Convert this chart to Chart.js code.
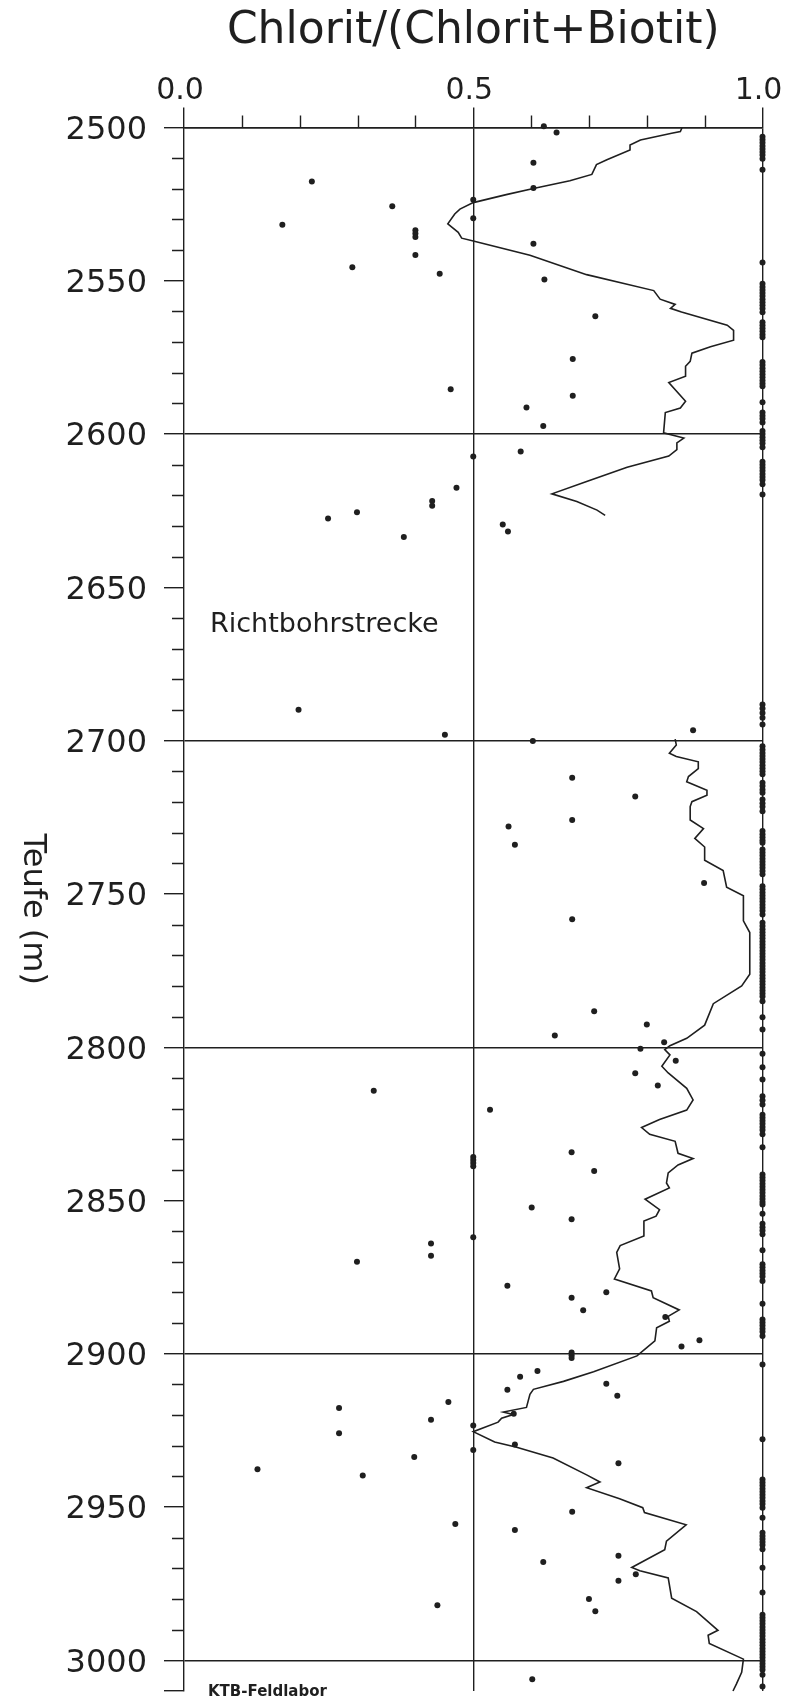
<!DOCTYPE html>
<html lang="de">
<head>
<meta charset="utf-8">
<title>Chlorit/(Chlorit+Biotit) – Teufe</title>
<script src="https://cdn.jsdelivr.net/npm/chart.js@4.4.1/dist/chart.umd.min.js"></script>
<style>
  html, body { margin: 0; padding: 0; background: #fff; }
  #wrap { width: 786px; height: 1700px; }
</style>
</head>
<body>
<div id="wrap"><canvas id="chlorit-log" width="786" height="1700"></canvas></div>
<script>
'use strict';

/* ── Data: single samples (ratio, depth in m) ── */
const sampleRatio = [
  0.622, 0.644, 0.604, 0.221, 0.604, 0.500, 0.360, 0.500, 0.170, 0.400,
  0.400, 0.400, 0.604, 0.400, 0.291, 0.442, 0.623, 0.711, 0.672, 0.461,
  0.672, 0.592, 0.621, 0.582, 0.500, 0.471, 0.429, 0.429, 0.299, 0.249,
  0.551, 0.560, 0.380, 0.198, 0.451, 0.880, 0.603,
  0.671, 0.780, 0.671, 0.561, 0.572, 0.899, 0.671, 0.709, 0.800, 0.641, 0.830, 0.789,
  0.850, 0.780, 0.819, 0.328, 0.529, 0.670, 0.500, 0.500, 0.500, 0.500,
  0.709, 0.601, 0.670, 0.500, 0.427, 0.427, 0.299, 0.559, 0.730, 0.670,
  0.690, 0.832, 0.891, 0.860, 0.670, 0.670, 0.670,
  0.611, 0.581, 0.730, 0.559, 0.749, 0.457, 0.268, 0.570, 0.427, 0.500,
  0.268, 0.572, 0.500, 0.398, 0.751, 0.127, 0.309, 0.671, 0.469, 0.572,
  0.751, 0.621, 0.781, 0.751, 0.700, 0.438, 0.711, 0.602
];
const sampleDepth = [
  2499.6, 2501.6, 2511.5, 2517.6, 2519.7, 2523.6, 2525.7, 2529.6, 2531.7, 2533.5,
  2534.6, 2535.7, 2537.9, 2541.6, 2545.6, 2547.7, 2549.6, 2561.6, 2575.5, 2585.4,
  2587.5, 2591.3, 2597.4, 2605.7, 2607.3, 2617.5, 2621.8, 2623.4, 2625.5, 2627.5,
  2629.5, 2631.8, 2633.6, 2689.9, 2698.1, 2696.6, 2700.1,
  2712.1, 2718.2, 2725.9, 2728.0, 2734.0, 2746.4, 2758.3, 2788.3, 2792.6, 2796.2, 2798.4, 2800.5,
  2804.4, 2808.5, 2812.5, 2814.2, 2820.4, 2834.3, 2835.8, 2836.8, 2837.8, 2838.8,
  2840.4, 2852.3, 2856.1, 2862.0, 2864.0, 2868.0, 2870.0, 2877.8, 2879.9, 2881.7,
  2885.8, 2888.0, 2895.6, 2897.6, 2899.6, 2900.5, 2901.4,
  2905.6, 2907.5, 2909.8, 2911.7, 2913.7, 2915.7, 2917.7, 2919.6, 2921.5, 2923.4,
  2925.9, 2929.6, 2931.4, 2933.7, 2935.7, 2937.7, 2939.7, 2951.5, 2955.5, 2957.5,
  2965.9, 2967.9, 2971.9, 2974.0, 2980.0, 2982.0, 2984.0, 3006.2
];

/* ── Data: samples with ratio 1.0 (right edge), depth in m ── */
const fullRatioDepth = [
  2503.0, 2504.0, 2505.0, 2506.0, 2507.0, 2508.0, 2509.0, 2510.2, 2513.8, 2544.0,
  2551.0, 2552.0, 2553.0, 2554.0, 2555.0, 2556.0, 2557.0, 2558.0, 2559.0, 2560.3,
  2563.5, 2564.5, 2565.5, 2566.5, 2567.5, 2568.4, 2576.5, 2577.5, 2578.5, 2579.5,
  2580.5, 2581.5, 2582.5, 2583.5, 2584.4, 2589.6, 2593.0, 2594.0, 2595.0, 2596.2,
  2599.0, 2600.0, 2601.0, 2602.0, 2603.0, 2604.3, 2609.0, 2610.0, 2611.0, 2612.0,
  2613.0, 2614.0, 2615.0, 2616.4, 2619.7, 2688.2, 2689.5, 2691.0, 2692.5, 2694.7,
  2701.8, 2703.0, 2704.0, 2705.0, 2706.0, 2707.0, 2708.0, 2709.0, 2710.0, 2711.0,
  2713.7, 2714.8, 2716.0, 2717.0, 2719.2, 2720.4, 2721.6, 2723.0, 2729.5, 2730.5,
  2731.5, 2732.5, 2733.3, 2735.5, 2736.5, 2737.5, 2738.5, 2739.5, 2740.5, 2741.5,
  2742.5, 2743.6, 2747.5, 2748.5, 2749.5, 2750.5, 2751.5, 2752.5, 2753.5, 2754.5,
  2755.5, 2756.7, 2759.4, 2760.5, 2761.5, 2762.5, 2763.5, 2764.5, 2765.5, 2766.5,
  2767.5, 2768.5, 2769.5, 2770.5, 2771.5, 2772.5, 2773.5, 2774.5, 2775.5, 2776.5,
  2777.5, 2778.5, 2779.5, 2780.5, 2781.5, 2782.5, 2783.5, 2785.0, 2790.2, 2794.2,
  2802.1, 2806.5, 2810.5, 2816.0, 2817.3, 2818.7, 2822.0, 2823.0, 2824.0, 2825.0,
  2826.0, 2827.0, 2828.4, 2832.6, 2841.5, 2842.5, 2843.5, 2844.5, 2845.5, 2846.5,
  2847.5, 2848.5, 2849.5, 2850.5, 2851.3, 2854.3, 2857.6, 2858.7, 2859.8, 2861.0,
  2866.2, 2870.8, 2871.8, 2872.8, 2873.8, 2874.8, 2876.3, 2883.7, 2888.8, 2889.8,
  2890.8, 2891.8, 2892.8, 2894.2, 2903.5, 2927.9, 2941.0, 2942.0, 2943.0, 2944.0,
  2945.0, 2946.0, 2947.0, 2948.0, 2949.0, 2950.2, 2953.5, 2958.4, 2959.4, 2960.4,
  2961.4, 2962.4, 2963.8, 2969.8, 2977.9, 2985.1, 2986.1, 2987.1, 2988.1, 2989.1,
  2990.1, 2991.1, 2992.1, 2993.1, 2994.1, 2995.1, 2996.1, 2997.1, 2998.1, 2999.1,
  3000.1, 3001.1, 3002.1, 3003.1, 3004.7, 3008.5
];

/* ── Data: running curve, upper part (2500–2627 m) ── */
const curveUpperRatio = [
  0.861, 0.858, 0.843, 0.789, 0.771, 0.771, 0.731, 0.713, 0.705, 0.667,
  0.604, 0.557, 0.500, 0.477, 0.468, 0.456, 0.474, 0.480, 0.500, 0.598,
  0.696, 0.812, 0.823, 0.849, 0.841, 0.860, 0.939, 0.950, 0.950, 0.910,
  0.878, 0.875, 0.867, 0.867, 0.838, 0.867, 0.858, 0.832, 0.829, 0.864,
  0.852, 0.852, 0.838, 0.766, 0.696, 0.636, 0.679, 0.714, 0.728
];
const curveUpperDepth = [
  2500.0, 2501.3, 2501.9, 2504.1, 2505.7, 2507.3, 2510.5, 2512.1, 2515.3, 2517.4,
  2519.9, 2521.9, 2524.5, 2526.6, 2528.2, 2531.4, 2534.2, 2536.1, 2537.0, 2541.7,
  2548.0, 2553.2, 2556.0, 2557.7, 2559.0, 2560.2, 2564.5, 2566.2, 2569.4, 2571.5,
  2573.6, 2576.3, 2577.9, 2581.1, 2583.2, 2589.3, 2591.5, 2593.0, 2599.6, 2601.3,
  2602.9, 2605.1, 2607.2, 2610.8, 2615.5, 2619.5, 2622.0, 2624.8, 2626.5
];

/* ── Data: running curve, lower part (2700–3010 m) ── */
const curveLowerRatio = [
  0.849, 0.851, 0.839, 0.851, 0.889, 0.889, 0.872, 0.869, 0.904, 0.904,
  0.878, 0.875, 0.875, 0.898, 0.883, 0.900, 0.900, 0.932, 0.938, 0.967,
  0.967, 0.978, 0.978, 0.964, 0.915, 0.900, 0.869, 0.840, 0.831, 0.840,
  0.826, 0.837, 0.869, 0.880, 0.869, 0.822, 0.791, 0.805, 0.849, 0.854,
  0.880, 0.854, 0.837, 0.834, 0.839, 0.797, 0.822, 0.816, 0.795, 0.795,
  0.754, 0.748, 0.753, 0.744, 0.808, 0.811, 0.856, 0.837, 0.839, 0.817,
  0.814, 0.800, 0.783, 0.708, 0.656, 0.604, 0.598, 0.592, 0.552, 0.569,
  0.549, 0.543, 0.500, 0.537, 0.575, 0.638, 0.696, 0.719, 0.696, 0.753,
  0.793, 0.796, 0.868, 0.834, 0.831, 0.774, 0.788, 0.837, 0.843, 0.886,
  0.923, 0.906, 0.908, 0.967, 0.964, 0.955, 0.949
];
const curveLowerDepth = [
  2699.5, 2701.4, 2704.1, 2705.2, 2706.9, 2709.1, 2711.7, 2713.4, 2716.2, 2717.8,
  2719.9, 2721.5, 2725.9, 2728.7, 2731.9, 2734.7, 2739.0, 2742.4, 2747.8, 2750.6,
  2758.8, 2762.6, 2776.2, 2780.0, 2785.8, 2792.8, 2797.1, 2799.5, 2800.8, 2802.5,
  2806.2, 2808.4, 2813.4, 2817.2, 2820.5, 2823.6, 2826.2, 2828.4, 2830.7, 2834.6,
  2836.3, 2838.4, 2841.0, 2844.3, 2845.9, 2849.6, 2853.0, 2855.1, 2856.7, 2861.6,
  2864.7, 2866.9, 2872.3, 2875.6, 2879.5, 2881.7, 2885.7, 2887.8, 2889.4, 2891.5,
  2895.8, 2898.0, 2900.7, 2905.9, 2909.0, 2911.6, 2913.2, 2917.5, 2919.0, 2919.8,
  2921.0, 2922.3, 2925.4, 2928.8, 2930.5, 2934.0, 2939.5, 2941.8, 2943.7, 2947.3,
  2950.2, 2951.8, 2955.8, 2961.1, 2963.9, 2969.7, 2970.8, 2973.1, 2979.7, 2984.1,
  2990.2, 2991.8, 2994.5, 2999.6, 3003.9, 3007.7, 3010.0
];

/* ── Axis setup ── */
const depthMin = 2500, depthMax = 3010;
const depthLabelStep = 50, depthGridStep = 100, depthMinorStep = 10;
const ratioMin = 0, ratioMax = 1, ratioMinorStep = 0.1;
const ratioLabels = [0.0, 0.5, 1.0];
const ratioGridLines = [0.5, 1.0];

const INK = '#1f1f1f';
const FONT = "'DejaVu Sans', sans-serif";
const MAJOR_TICK = 20, MINOR_TICK = 12;

const near = (a, b) => Math.abs(a - b) < 1e-6;
const isRatioMajor = v => ratioLabels.some(l => near(l, v));
const isDepthMajor = v => near(v % depthLabelStep, 0) || near(v, depthMax);

const pairUp = (xs, ys) => xs.map((x, i) => ({ x, y: ys[i] }));

/* ── Minor ticks, axis title and notes ── */
const logExtras = {
  id: 'logExtras',
  afterDraw(chart) {
    const { ctx, chartArea: a, scales: { x, y } } = chart;
    ctx.save();
    ctx.strokeStyle = INK;
    ctx.lineWidth = 1.4;
    ctx.beginPath();
    y.ticks.forEach(t => {
      if (isDepthMajor(t.value)) return;
      const py = Math.round(y.getPixelForValue(t.value)) + 0.5;
      ctx.moveTo(a.left - MINOR_TICK, py);
      ctx.lineTo(a.left, py);
    });
    x.ticks.forEach(t => {
      if (isRatioMajor(t.value)) return;
      const px = Math.round(x.getPixelForValue(t.value)) + 0.5;
      ctx.moveTo(px, a.top - MINOR_TICK);
      ctx.lineTo(px, a.top);
    });
    ctx.stroke();

    ctx.fillStyle = INK;
    // y axis title, reading downward
    ctx.save();
    ctx.translate(24, (a.top + a.bottom) / 2);
    ctx.rotate(Math.PI / 2);
    ctx.font = `32px ${FONT}`;
    ctx.textAlign = 'center';
    ctx.textBaseline = 'alphabetic';
    ctx.fillText('Teufe (m)', 0, 0);
    ctx.restore();

    ctx.textAlign = 'left';
    ctx.textBaseline = 'alphabetic';
    ctx.font = `27px ${FONT}`;
    ctx.fillText('Richtbohrstrecke', a.left + 26, a.top + 504);
    ctx.font = `bold 15px ${FONT}`;
    ctx.fillText('KTB-Feldlabor', a.left + 24, a.bottom + 5);
    ctx.restore();
  }
};

/* ── Chart ── */
Chart.defaults.font.family = FONT;
Chart.defaults.color = INK;

new Chart(document.getElementById('chlorit-log'), {
  type: 'scatter',
  data: {
    datasets: [
      {
        label: 'Laufender Mittelwert 2500–2627 m',
        data: pairUp(curveUpperRatio, curveUpperDepth),
        showLine: true,
        borderColor: INK,
        borderWidth: 1.6,
        pointRadius: 0,
        tension: 0,
        clip: false
      },
      {
        label: 'Laufender Mittelwert 2700–3010 m',
        data: pairUp(curveLowerRatio, curveLowerDepth),
        showLine: true,
        borderColor: INK,
        borderWidth: 1.6,
        pointRadius: 0,
        tension: 0,
        clip: false
      },
      {
        label: 'Einzelproben',
        data: pairUp(sampleRatio, sampleDepth),
        pointRadius: 3,
        pointStyle: 'circle',
        backgroundColor: INK,
        borderWidth: 0,
        clip: false
      },
      {
        label: 'Einzelproben (1.0)',
        data: fullRatioDepth.map(d => ({ x: ratioMax, y: d })),
        pointRadius: 3,
        pointStyle: 'circle',
        backgroundColor: INK,
        borderWidth: 0,
        clip: false
      }
    ]
  },
  options: {
    responsive: false,
    animation: false,
    events: [],
    layout: { padding: { left: 0, right: 23.5, top: 0, bottom: 9 } },
    plugins: {
      legend: { display: false },
      tooltip: { enabled: false },
      title: {
        display: true,
        text: 'Chlorit/(Chlorit+Biotit)',
        fullSize: false,
        color: INK,
        font: { family: FONT, size: 44, weight: 'normal', lineHeight: 1.2 },
        padding: { top: 5, bottom: 0 }
      }
    },
    scales: {
      x: {
        type: 'linear',
        position: 'top',
        min: ratioMin,
        max: ratioMax,
        afterFit: s => { s.height = 69.7; s.paddingLeft = 0; s.paddingRight = 0; },
        border: { display: true, color: INK, width: 1.4 },
        grid: {
          color: c => (c.tick && ratioGridLines.some(v => near(v, c.tick.value))) ? INK : 'rgba(0,0,0,0)',
          lineWidth: 1.4,
          tickLength: MAJOR_TICK,
          tickColor: c => (c.tick && isRatioMajor(c.tick.value)) ? INK : 'rgba(0,0,0,0)',
          tickWidth: 1.4
        },
        ticks: {
          stepSize: ratioMinorStep,
          autoSkip: false,
          maxRotation: 0,
          padding: -2,
          labelOffset: -4,
          font: { family: FONT, size: 30 },
          callback: v => isRatioMajor(v) ? Number(v).toFixed(1) : ''
        }
      },
      y: {
        type: 'linear',
        reverse: true,
        min: depthMin,
        max: depthMax,
        afterFit: s => { s.width = 184; s.paddingTop = 0; s.paddingBottom = 0; },
        border: { display: true, color: INK, width: 1.4 },
        grid: {
          color: c => (c.tick && near(c.tick.value % depthGridStep, 0)) ? INK : 'rgba(0,0,0,0)',
          lineWidth: 1.4,
          tickLength: MAJOR_TICK,
          tickColor: c => (c.tick && isDepthMajor(c.tick.value)) ? INK : 'rgba(0,0,0,0)',
          tickWidth: 1.4
        },
        ticks: {
          stepSize: depthMinorStep,
          includeBounds: false,
          autoSkip: false,
          padding: 17,
          labelOffset: 3,
          font: { family: FONT, size: 32 },
          callback: v => near(v % depthLabelStep, 0) ? String(v) : ''
        }
      }
    }
  },
  plugins: [logExtras]
});
</script>
</body>
</html>
